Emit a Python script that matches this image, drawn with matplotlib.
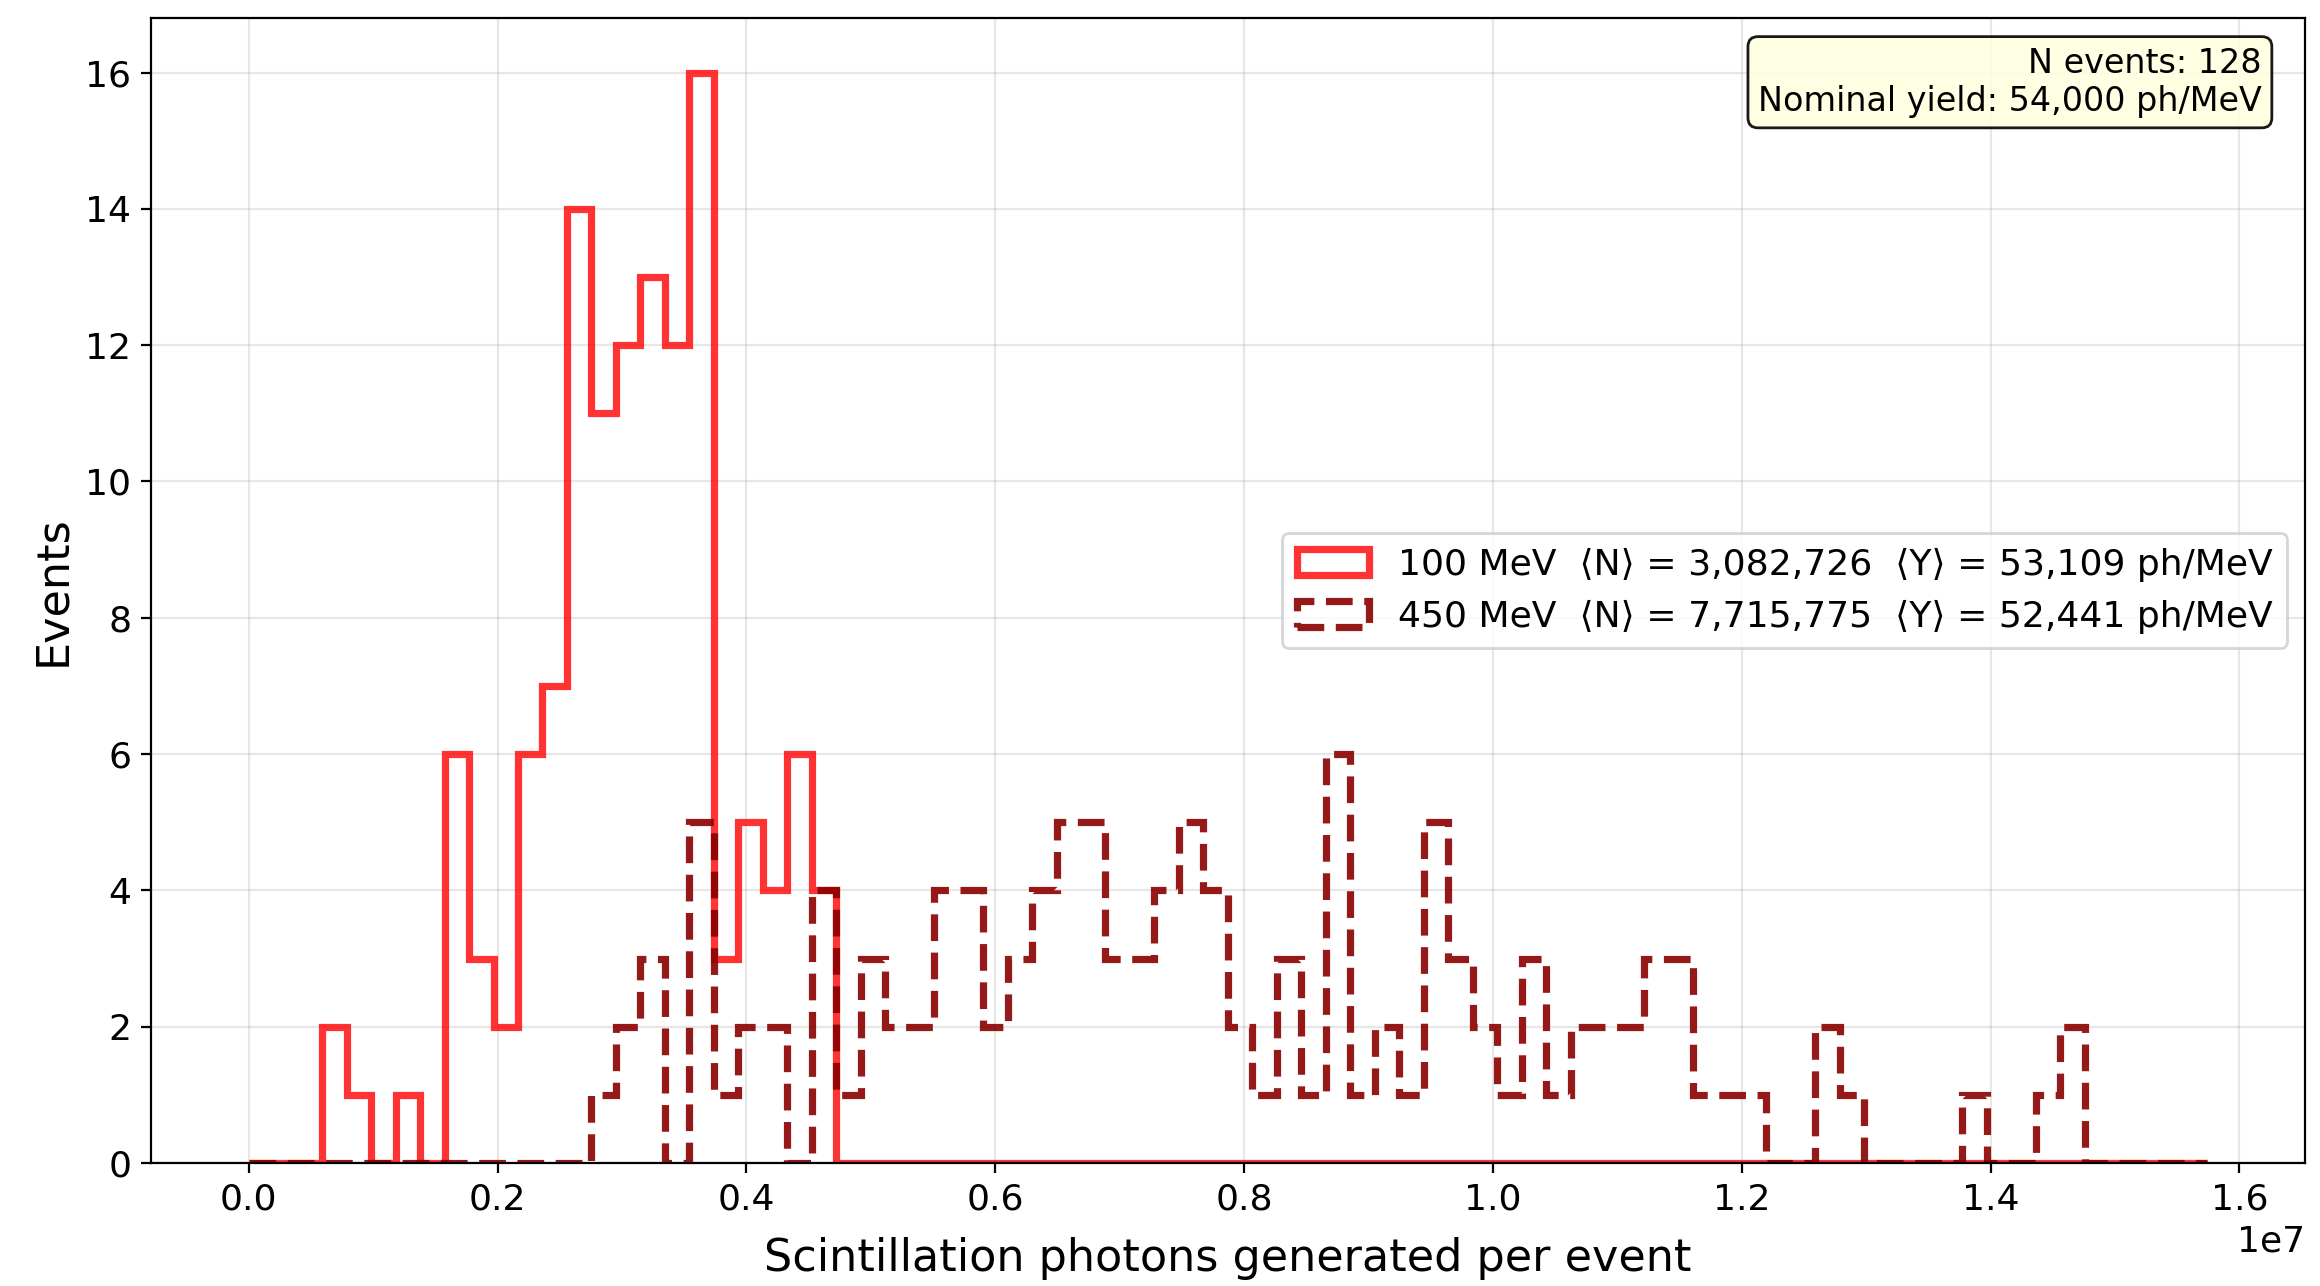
import numpy as np
import matplotlib
matplotlib.use("Agg")
import matplotlib.pyplot as plt

# bin edges shared by both energies (80 bins)
x_max = 15.74e6
n_bins = 80

# counts per bin, 100 MeV
counts_100 = [0, 0, 0, 2, 1, 0, 1, 0, 6, 3,
              2, 6, 7, 14, 11, 12, 13, 12, 16, 3,
              5, 4, 6, 4, 0, 0, 0, 0, 0, 0] + [0] * 50

# counts per bin, 450 MeV
counts_450 = [0, 0, 0, 0, 0, 0, 0, 0, 0, 0,
              0, 0, 0, 0, 1, 2, 3, 0, 5, 1,
              2, 2, 0, 4, 1, 3, 2, 2, 4, 4,
              2, 3, 4, 5, 5, 3, 3, 4, 5, 4,
              2, 1, 3, 1, 6, 1, 2, 1, 5, 3,
              2, 1, 3, 1, 2, 2, 2, 3, 3, 1,
              1, 1, 0, 0, 2, 1, 0, 0, 0, 0,
              1, 0, 0, 1, 2, 0, 0, 0, 0, 0]

labels = ["100 MeV  \u27e8N\u27e9 = 3,082,726  \u27e8Y\u27e9 = 53,109 ph/MeV",
          "450 MeV  \u27e8N\u27e9 = 7,715,775  \u27e8Y\u27e9 = 52,441 ph/MeV"]
info_text = "N events: 128\nNominal yield: 54,000 ph/MeV"

edges = np.linspace(0, x_max, n_bins + 1)
centers = 0.5 * (edges[:-1] + edges[1:])

fig, ax = plt.subplots(figsize=(11.6, 6.43), dpi=200)
fig.subplots_adjust(left=0.065, right=0.9935, top=0.986, bottom=0.0956)

ax.hist(centers, bins=edges, weights=counts_100, histtype="step",
        color="red", alpha=0.8, linewidth=2.6, label=labels[0])
ax.hist(centers, bins=edges, weights=counts_450, histtype="step",
        color="darkred", alpha=0.9, linewidth=2.6, linestyle="--", label=labels[1])

ax.set_xlabel("Scintillation photons generated per event", fontsize=16, labelpad=7.5)
ax.set_ylabel("Events", fontsize=16)
ax.tick_params(labelsize=13)
ax.xaxis.get_offset_text().set_fontsize(13)
ax.grid(True, alpha=0.3)

ax.legend(loc="center right", fontsize=13)
ax.text(0.98, 0.975, info_text, transform=ax.transAxes, ha="right", va="top",
        fontsize=12, bbox=dict(boxstyle="round", facecolor="lightyellow", alpha=0.9))

fig.savefig("out.png", dpi=200)
